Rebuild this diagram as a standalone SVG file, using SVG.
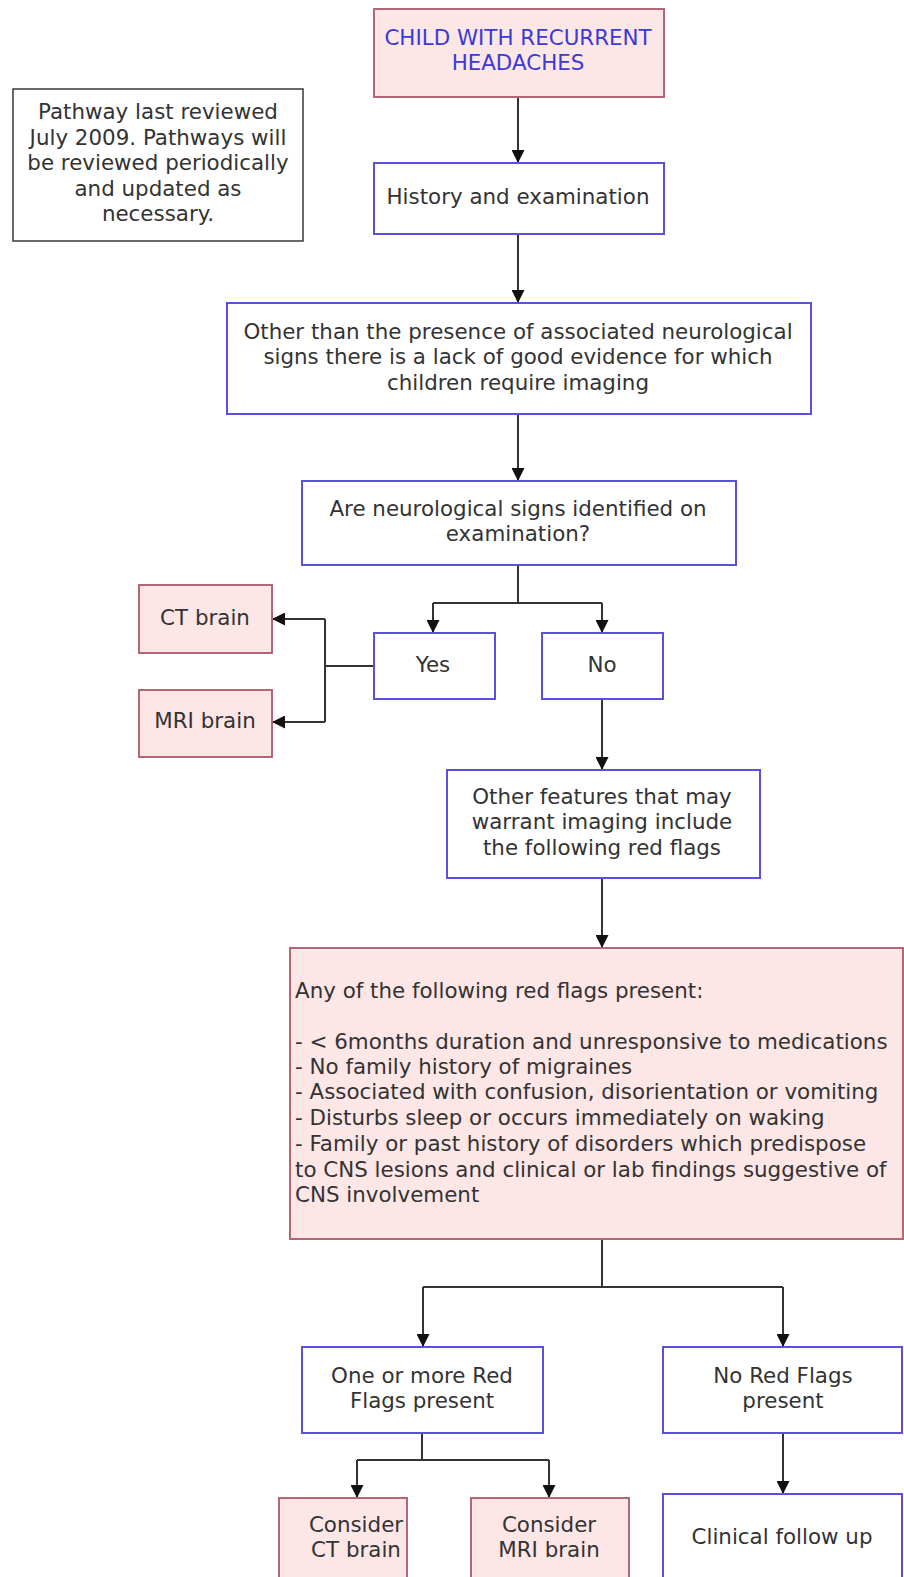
<svg xmlns="http://www.w3.org/2000/svg" width="904" height="1577" viewBox="0 0 904 1577">
<style>
  text { font-family: "DejaVu Sans", Verdana, sans-serif; font-size: 21.4px; fill: #333333; }
  .c { text-anchor: middle; }
  .title { fill: #3a3ad4; }
  .blue { fill: #ffffff; stroke: #5a50dc; stroke-width: 2; }
  .pink { fill: #fde6e6; stroke: #b46676; stroke-width: 2; }
  .note { fill: #ffffff; stroke: #3a3a3a; stroke-width: 1.5; }
  .conn { fill: none; stroke: #333333; stroke-width: 2; }
</style>
<defs>
  <marker id="arr" viewBox="0 0 10 10" refX="10" refY="5" markerWidth="13" markerHeight="13" markerUnits="userSpaceOnUse" orient="auto">
    <path d="M0,0 L10,5 L0,10 z" fill="#111111"/>
  </marker>
</defs>
<rect width="904" height="1577" fill="#ffffff"/>

<g id="connectors">
  <path class="conn" d="M518,97 V163" marker-end="url(#arr)"/>
  <path class="conn" d="M518,234 V303" marker-end="url(#arr)"/>
  <path class="conn" d="M518,414 V481" marker-end="url(#arr)"/>
  <path class="conn" d="M518,565 V603"/>
  <path class="conn" d="M433,603 H602"/>
  <path class="conn" d="M433,603 V633" marker-end="url(#arr)"/>
  <path class="conn" d="M602,603 V633" marker-end="url(#arr)"/>
  <path class="conn" d="M374,666 H325"/>
  <path class="conn" d="M325,619 V722"/>
  <path class="conn" d="M325,619 H272" marker-end="url(#arr)"/>
  <path class="conn" d="M325,722 H272" marker-end="url(#arr)"/>
  <path class="conn" d="M602,699 V770" marker-end="url(#arr)"/>
  <path class="conn" d="M602,878 V948" marker-end="url(#arr)"/>
  <path class="conn" d="M602,1239 V1287"/>
  <path class="conn" d="M423,1287 H783"/>
  <path class="conn" d="M423,1287 V1347" marker-end="url(#arr)"/>
  <path class="conn" d="M783,1287 V1347" marker-end="url(#arr)"/>
  <path class="conn" d="M422,1433 V1460"/>
  <path class="conn" d="M357,1460 H549"/>
  <path class="conn" d="M357,1460 V1498" marker-end="url(#arr)"/>
  <path class="conn" d="M549,1460 V1498" marker-end="url(#arr)"/>
  <path class="conn" d="M783,1433 V1494" marker-end="url(#arr)"/>
</g>

<g id="start">
  <rect class="pink" x="374" y="9" width="290" height="88"/>
  <text class="c title" x="518" y="45">CHILD WITH RECURRENT</text>
  <text class="c title" x="518" y="70">HEADACHES</text>
</g>

<g id="review-note">
  <rect class="note" x="13" y="89" width="290" height="152"/>
  <text class="c" x="158" y="119">Pathway last reviewed</text>
  <text class="c" x="158" y="145">July 2009. Pathways will</text>
  <text class="c" x="158" y="170">be reviewed periodically</text>
  <text class="c" x="158" y="196">and updated as</text>
  <text class="c" x="158" y="221">necessary.</text>
</g>

<g id="history">
  <rect class="blue" x="374" y="163" width="290" height="71"/>
  <text class="c" x="518" y="204">History and examination</text>
</g>

<g id="evidence">
  <rect class="blue" x="227" y="303" width="584" height="111"/>
  <text class="c" x="518" y="339">Other than the presence of associated neurological</text>
  <text class="c" x="518" y="364">signs there is a lack of good evidence for which</text>
  <text class="c" x="518" y="390">children require imaging</text>
</g>

<g id="neuro-signs">
  <rect class="blue" x="302" y="481" width="434" height="84"/>
  <text class="c" x="518" y="516">Are neurological signs identified on</text>
  <text class="c" x="518" y="541">examination?</text>
</g>

<g id="yes">
  <rect class="blue" x="374" y="633" width="121" height="66"/>
  <text class="c" x="433" y="672">Yes</text>
</g>

<g id="no">
  <rect class="blue" x="542" y="633" width="121" height="66"/>
  <text class="c" x="602" y="672">No</text>
</g>

<g id="ct-brain">
  <rect class="pink" x="139" y="585" width="133" height="68"/>
  <text class="c" x="205" y="625">CT brain</text>
</g>

<g id="mri-brain">
  <rect class="pink" x="139" y="690" width="133" height="67"/>
  <text class="c" x="205" y="728">MRI brain</text>
</g>

<g id="other-features">
  <rect class="blue" x="447" y="770" width="313" height="108"/>
  <text class="c" x="602" y="804">Other features that may</text>
  <text class="c" x="602" y="829">warrant imaging include</text>
  <text class="c" x="602" y="855">the following red flags</text>
</g>

<g id="red-flags">
  <rect class="pink" x="290" y="948" width="613" height="291"/>
  <text x="295" y="998">Any of the following red flags present:</text>
  <text x="295" y="1049">- &lt; 6months duration and unresponsive to medications</text>
  <text x="295" y="1074">- No family history of migraines</text>
  <text x="295" y="1099">- Associated with confusion, disorientation or vomiting</text>
  <text x="295" y="1125">- Disturbs sleep or occurs immediately on waking</text>
  <text x="295" y="1151">- Family or past history of disorders which predispose</text>
  <text x="295" y="1177">to CNS lesions and clinical or lab findings suggestive of</text>
  <text x="295" y="1202">CNS involvement</text>
</g>

<g id="one-or-more">
  <rect class="blue" x="302" y="1347" width="241" height="86"/>
  <text class="c" x="422" y="1383">One or more Red</text>
  <text class="c" x="422" y="1408">Flags present</text>
</g>

<g id="no-red-flags">
  <rect class="blue" x="663" y="1347" width="239" height="86"/>
  <text class="c" x="783" y="1383">No Red Flags</text>
  <text class="c" x="783" y="1408">present</text>
</g>

<g id="consider-ct">
  <rect class="pink" x="279" y="1498" width="128" height="85"/>
  <text class="c" x="356" y="1532">Consider</text>
  <text class="c" x="356" y="1557">CT brain</text>
</g>

<g id="consider-mri">
  <rect class="pink" x="471" y="1498" width="158" height="85"/>
  <text class="c" x="549" y="1532">Consider</text>
  <text class="c" x="549" y="1557">MRI brain</text>
</g>

<g id="clinical-follow-up">
  <rect class="blue" x="663" y="1494" width="239" height="89"/>
  <text class="c" x="782" y="1544">Clinical follow up</text>
</g>
</svg>
